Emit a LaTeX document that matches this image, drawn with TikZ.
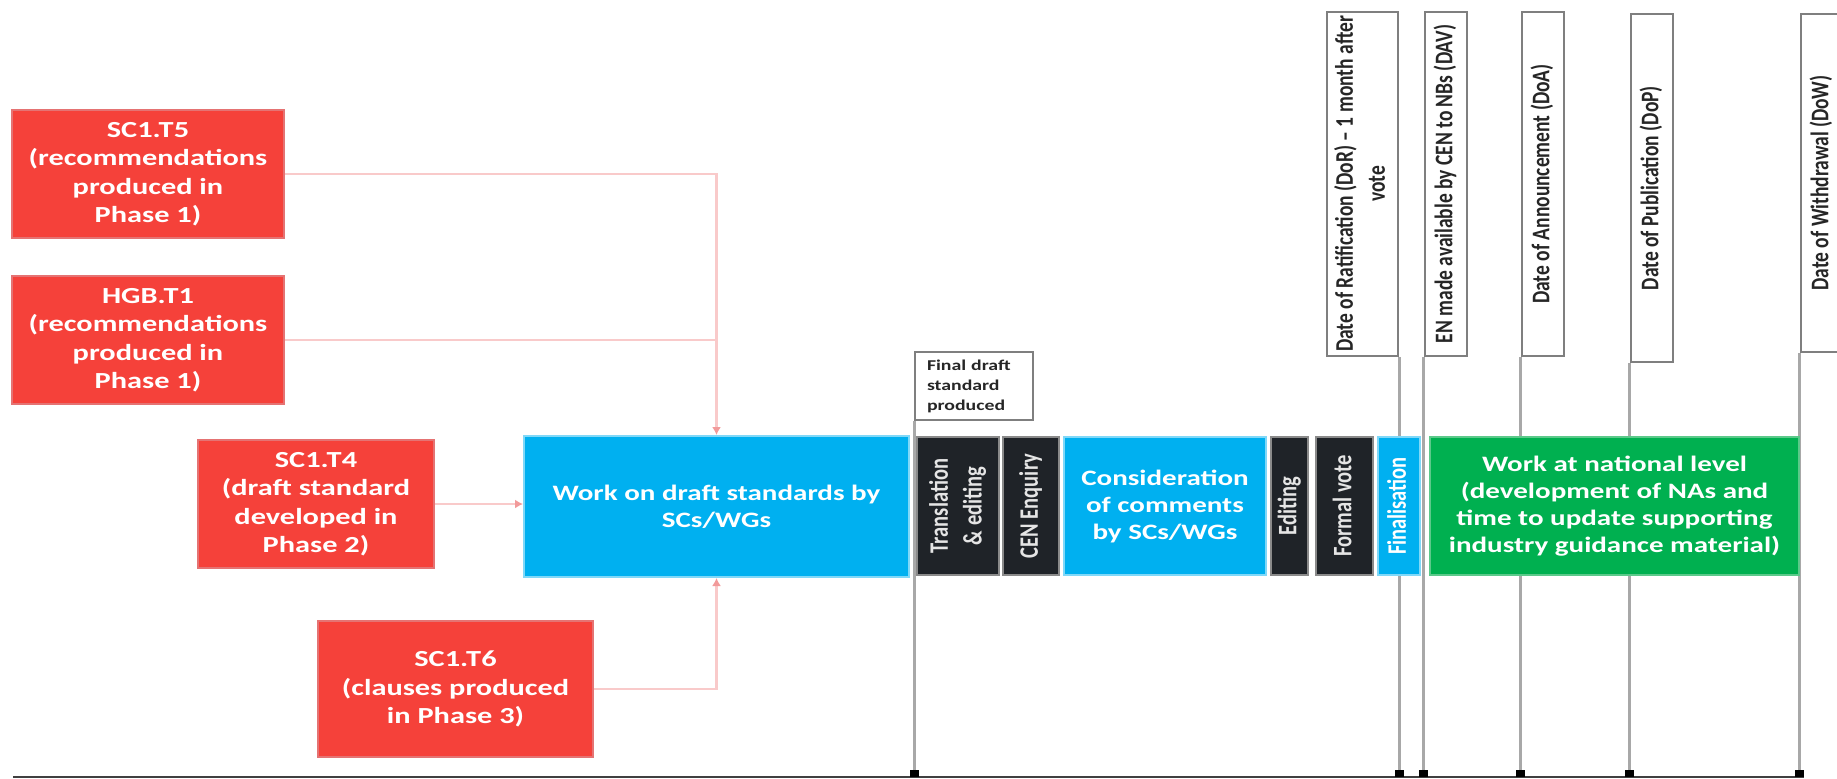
\documentclass[tikz,border=0pt]{standalone}
\usepackage{fontspec}
\setmainfont{Carlito}[FakeStretch=1.32]
\newfontfamily\rotfont{Carlito}
\usepackage{graphicx}
\usetikzlibrary{arrows.meta}
\definecolor{redfill}{HTML}{F5413A}
\definecolor{redline}{HTML}{E57373}
\definecolor{bluefill}{HTML}{00B0F0}
\definecolor{blueline}{HTML}{80D8F8}
\definecolor{darkfill}{HTML}{1F2328}
\definecolor{darkline}{HTML}{8A8A8A}
\definecolor{greenfill}{HTML}{00B050}
\definecolor{greenline}{HTML}{5CC98A}
\definecolor{pinkline}{HTML}{F9CACA}
\definecolor{pinktip}{HTML}{F29A9A}
\definecolor{vgray}{HTML}{A8A8A8}
\definecolor{boxgray}{HTML}{7F7F7F}
\definecolor{axisgray}{HTML}{404040}
\newcommand{\rtx}[1]{\rotatebox{90}{\scalebox{1}[1.3]{\rotfont\bfseries\fontsize{20.5}{26}\selectfont\begin{tabular}{@{}c@{}}#1\end{tabular}}}}
\newcommand{\rtd}[1]{\rotatebox{90}{\scalebox{1}[1.3]{\rotfont\bfseries\fontsize{19.5}{24.5}\selectfont\begin{tabular}{@{}c@{}}#1\end{tabular}}}}
\pgfdeclarelayer{bg}
\pgfsetlayers{bg,main}
\tikzset{
  boxbase/.style={inner sep=0pt, align=center, font=\bfseries\fontsize{23}{28.5}\selectfont},
  redbox/.style={boxbase, fill=redfill, draw=redline, line width=2pt, text=white},
  bluebox/.style={boxbase, fill=bluefill, draw=blueline, line width=2pt, text=white, font=\bfseries\fontsize{22}{27}\selectfont},
  darkbox/.style={boxbase, fill=darkfill, draw=darkline, line width=2pt, text=white!90!black},
  greenbox/.style={boxbase, fill=greenfill, draw=greenline, line width=1.5pt, text=white, font=\bfseries\fontsize{22}{27}\selectfont},
  datebox/.style={boxbase, fill=white, draw=boxgray, line width=2.5pt, text=black!85},
  link/.style={draw=pinkline, line width=2.5pt},
  linkarrow/.style={link, -{Latex[length=8pt,width=9pt,color=pinktip]}},
  vline/.style={draw=vgray, line width=3pt, -{Rectangle[length=7pt,width=9pt,color=black]}},
  axisline/.style={draw=axisgray, line width=2.5pt}
}
\begin{document}
\begin{tikzpicture}[x=1pt,y=-1pt]
\useasboundingbox (0,0) rectangle (1837,779);
\clip (0,0) rectangle (1837,779);
% red boxes
\node[redbox, minimum width=272, minimum height=128] (t5) at (148,174) {SC1.T5\\(recommendations\\produced in\\Phase 1)};
\node[redbox, minimum width=272, minimum height=128] (hg) at (148,340) {HGB.T1\\(recommendations\\produced in\\Phase 1)};
\node[redbox, minimum width=236, minimum height=128] (t4) at (316,504) {SC1.T4\\(draft standard\\developed in\\Phase 2)};
\node[redbox, minimum width=275, minimum height=136] (t6) at (455.5,689) {SC1.T6\\(clauses produced\\in Phase 3)};
% main row
\node[bluebox, minimum width=385, minimum height=141] (wk) at (716.5,506.5) {Work on draft standards by\\SCs/WGs};
\node[darkbox, minimum width=82, minimum height=138] (tr) at (958,506) {\rtx{Translation\\\& editing}};
\node[darkbox, minimum width=56, minimum height=138] (cen) at (1031,506) {\rtx{CEN Enquiry}};
\node[bluebox, minimum width=202, minimum height=138] (cons) at (1165,506) {Consideration\\of comments\\by SCs/WGs};
\node[darkbox, minimum width=37, minimum height=138] (ed) at (1289.5,506) {\rtx{Editing}};
\node[darkbox, minimum width=57, minimum height=138] (fv) at (1344.5,506) {\rtx{Formal vote}};
\node[bluebox, minimum width=42, minimum height=138] (fin) at (1399,506) {\rtx{Finalisation}};
\node[greenbox, minimum width=369, minimum height=138] (nat) at (1614.5,506) {Work at national level\\(development of NAs and\\time to update supporting\\industry guidance material)};
% final draft box
\node[datebox, line width=2pt, minimum width=118, minimum height=68, inner xsep=12pt, text width=94pt, align=left, font=\bfseries\fontsize{15}{20}\selectfont] (fd) at (974,386) {Final draft\\standard\\produced};
% date boxes
\node[datebox, minimum width=71, minimum height=344] (d1) at (1362.5,184) {\rtd{Date of Ratification (DoR) – 1 month after\\vote}};
\node[datebox, minimum width=42, minimum height=344] (d2) at (1446,184) {\rtd{EN made available by CEN to NBs (DAV)}};
\node[datebox, minimum width=42, minimum height=344] (d3) at (1543,184) {\rtd{Date of Announcement (DoA)}};
\node[datebox, minimum width=42, minimum height=348] (d4) at (1652,188) {\rtd{Date of Publication (DoP)}};
\node[datebox, minimum width=42, minimum height=338] (d5) at (1822,183) {\rtd{Date of Withdrawal (DoW)}};
% timeline
\coordinate (tlL) at (13,777);
\coordinate (tlR) at (1804,777);
\begin{pgfonlayer}{bg}
\draw[axisline] (tlL) -- (tlR);
\draw[vline] (fd.south west) -- (fd.south west |- tlL);
\draw[vline] (d1.south east) -- (d1.south east |- tlL);
\draw[vline] (d2.south west) -- (d2.south west |- tlL);
\draw[vline] (d3.south west) -- (d3.south west |- tlL);
\draw[vline] (d4.south west) -- (d4.south west |- tlL);
\draw[vline] (d5.south west) -- (d5.south west |- tlL);
\end{pgfonlayer}
% connectors
\draw[linkarrow] (t5.east) -| (wk.north);
\draw[link] (hg.east) -- (hg.east -| wk.north);
\draw[linkarrow] (t4.east) -- (t4.east -| wk.west);
\draw[linkarrow] (t6.east) -| (wk.south);
\end{tikzpicture}
\end{document}
